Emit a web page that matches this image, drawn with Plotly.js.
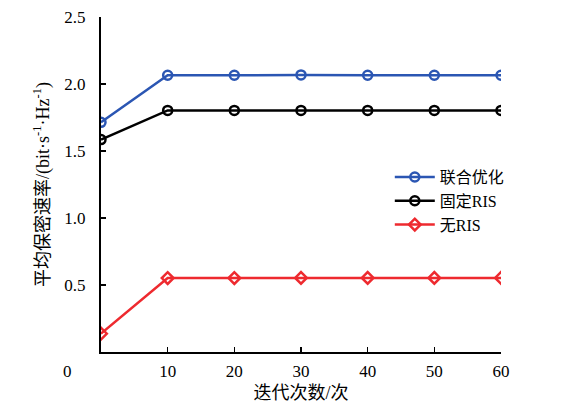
<!DOCTYPE html>
<html><head><meta charset="utf-8">
<script src="https://cdn.plot.ly/plotly-3.0.1.min.js"></script>
<style>html,body{margin:0;padding:0;background:#fff}#chart{width:587px;height:408px}</style>
</head><body><div id="chart"></div>
<script>
const iterations = [0, 10, 20, 30, 40, 50, 60];
const jointOpt = [1.714, 2.065, 2.065, 2.068, 2.065, 2.065, 2.065];
const fixedRIS = [1.585, 1.803, 1.803, 1.803, 1.803, 1.803, 1.803];
const noRIS = [0.137, 0.552, 0.552, 0.553, 0.553, 0.553, 0.553];
const seriesNames = ['联合优化', '固定RIS', '无RIS'];
const xTicks = [10, 20, 30, 40, 50, 60];
const yTicks = [0.5, 1.0, 1.5, 2.0, 2.5];
const yTickText = ['0.5', '1.0', '1.5', '2.0', '2.5'];

const serif = 'Liberation Serif, serif';
const cjk = 'Liberation Serif, Noto Sans CJK SC, serif';
function mk(y, name, color, symbol) {
  return {x: iterations, y: y, name: name, type: 'scatter', mode: 'lines+markers',
    line: {color: color, width: 2.5},
    marker: {symbol: symbol, size: 9, color: color, line: {color: color, width: 2.5}}};
}
const data = [
  mk(jointOpt, seriesNames[0], '#2b56b3', 'circle-open'),
  mk(fixedRIS, seriesNames[1], '#000000', 'circle-open'),
  mk(noRIS, seriesNames[2], '#ee2a2f', 'diamond-open')
];
const layout = {
  width: 587, height: 408,
  margin: {l: 101, r: 86, t: 17, b: 56},
  paper_bgcolor: '#fff', plot_bgcolor: '#fff',
  font: {family: serif, size: 17, color: '#000'},
  showlegend: true,
  legend: {x: 0.722, y: 0.573, xanchor: 'left', yanchor: 'top', bgcolor: 'rgba(0,0,0,0)',
    font: {family: cjk, size: 16}, tracegroupgap: 0, itemwidth: 40},
  xaxis: {range: [0, 60], tickvals: xTicks, ticktext: xTicks.map(String),
    ticks: 'inside', ticklen: 5, tickwidth: 1.5, tickcolor: '#000',
    showline: true, linecolor: '#000', linewidth: 2, showgrid: false, zeroline: false,
    tickfont: {family: serif, size: 17}, ticklabelstandoff: 3,
    title: {text: '迭代次数/次', font: {family: cjk, size: 18}, standoff: 6}},
  yaxis: {range: [0, 2.5], tickvals: yTicks, ticktext: yTickText,
    ticks: 'inside', ticklen: 5, tickwidth: 1.5, tickcolor: '#000',
    showline: true, linecolor: '#000', linewidth: 2, showgrid: false, zeroline: false,
    tickfont: {family: serif, size: 17}, ticklabelstandoff: 10,
    title: {text: '平均保密速率/(bit·s<sup>-1</sup>·Hz<sup>-1</sup>)', font: {family: cjk, size: 18}, standoff: 10}},
  annotations: [{text: '0', xref: 'paper', yref: 'paper', x: -0.083, y: -0.025,
    xanchor: 'center', yanchor: 'top', showarrow: false, font: {family: serif, size: 17}}]
};
Plotly.newPlot('chart', data, layout, {displayModeBar: false, staticPlot: true});
</script></body></html>
